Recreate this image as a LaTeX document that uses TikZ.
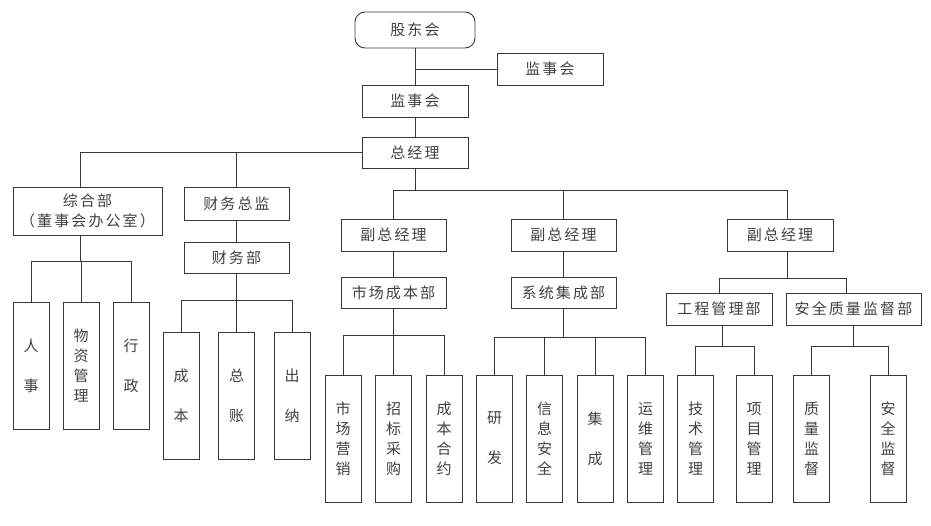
\documentclass[tikz,border=0pt]{standalone}
\usepackage{fontspec}
\newfontfamily\cjk[LetterSpace=14]{Noto Sans CJK SC}
\newfontfamily\cjkv{Noto Sans CJK SC}
\begin{document}
\begin{tikzpicture}[x=1pt,y=-1pt,
  box/.style={draw=black!78, line width=0.9pt, inner sep=0pt, text=black!75, align=center,
              font=\cjk\fontsize{15}{20}\selectfont},
  hb/.style={box, minimum width=106pt, minimum height=32pt},
  leaf/.style={box, minimum width=36pt, minimum height=127pt, font=\cjkv\fontsize{15}{20}\selectfont},
  link/.style={draw=black!78, line width=0.9pt}]
\useasboundingbox (0,0) rectangle (931,525);
% top
\node[box, rounded corners=10pt, minimum width=120pt, minimum height=36pt] (gd) at (415,30) {股东会};
\node[hb] (jsh2) at (550,69) {监事会};
\node[hb] (jsh) at (415,101) {监事会};
\node[hb, minimum height=31pt] (zjl) at (415,152.5) {总经理};
% left
\node[box, minimum width=149pt, minimum height=48pt] (zhb) at (87.5,211) {综合部\\（董事会办公室）};
\node[hb, minimum width=105pt, minimum height=33pt] (cwzj) at (236.5,203.5) {财务总监};
\node[hb, minimum width=105pt, minimum height=31pt] (cwb) at (236.5,257.5) {财务部};
\node[leaf] (rs) at (31,365.5) {人\\[20pt]事};
\node[leaf] (wz) at (81,365.5) {物\\资\\管\\理};
\node[leaf] (xz) at (131,365.5) {行\\[20pt]政};
\node[leaf] (cb) at (181,395.5) {成\\[20pt]本};
\node[leaf] (zz) at (236.5,395.5) {总\\[20pt]账};
\node[leaf] (cn) at (292,395.5) {出\\[20pt]纳};
% deputies
\node[hb, minimum width=105pt] (fz1) at (393.5,235) {副总经理};
\node[hb, minimum width=105pt, minimum height=31pt] (scb) at (393.5,292.5) {市场成本部};
\node[hb, minimum width=105pt] (fz2) at (563.5,235) {副总经理};
\node[hb, minimum width=105pt, minimum height=31pt] (xtb) at (563.5,292.5) {系统集成部};
\node[hb] (fz3) at (780,235) {副总经理};
\node[hb] (gcb) at (719,309) {工程管理部};
\node[hb, minimum width=135pt] (aqb) at (853.5,309) {安全质量监督部};
% leaves
\node[leaf] (scyx) at (343,438.5) {市\\场\\营\\销};
\node[leaf] (zbcg) at (393.5,438.5) {招\\标\\采\\购};
\node[leaf] (cbhy) at (444,438.5) {成\\本\\合\\约};
\node[leaf] (yf) at (494.5,438.5) {研\\[20pt]发};
\node[leaf] (xxaq) at (544.5,438.5) {信\\息\\安\\全};
\node[leaf] (jc) at (595,438.5) {集\\[20pt]成};
\node[leaf] (ywgl) at (645.5,438.5) {运\\维\\管\\理};
\node[leaf] (jsgl) at (695.5,438.5) {技\\术\\管\\理};
\node[leaf] (xmgl) at (754,438.5) {项\\目\\管\\理};
\node[leaf] (zljd) at (811.5,438.5) {质\\量\\监\\督};
\node[leaf] (aqjd) at (888,438.5) {安\\全\\监\\督};
% helper coordinates
\coordinate (zhbt) at ([xshift=-7.5pt]zhb.north);
\coordinate (zhbb) at ([xshift=-7.5pt]zhb.south);
\coordinate (fz3t) at ([xshift=7pt]fz3.north);
\coordinate (fz3b) at ([xshift=7pt]fz3.south);
\coordinate (aqbt) at ([xshift=-7.5pt]aqb.north);
\coordinate (gcbb) at ([xshift=3pt]gcb.south);
\coordinate (bA) at (0,190);
\coordinate (bZ) at (0,261);
\coordinate (bC) at (0,300);
\coordinate (bS) at (0,335);
\coordinate (bX) at (0,337);
\coordinate (bF) at (0,278);
\coordinate (bG) at (0,346);
% connectors
\draw[link] (gd) -- (jsh);
\draw[link] (jsh2.west) -- (jsh2.west -| gd.south);
\draw[link] (jsh) -- (zjl);
\draw[link] (zjl.west) -| (zhbt);
\draw[link] (zjl.west) -| (cwzj.north);
\draw[link] (cwzj) -- (cwb);
\foreach \c in {fz1,fz2} \draw[link] (zjl.south) |- (\c.north |- bA) -- (\c.north);
\draw[link] (zjl.south) |- (fz3t |- bA) -- (fz3t);
\foreach \c in {rs,wz,xz} \draw[link] (zhbb) |- (\c.north |- bZ) -- (\c.north);
\foreach \c in {cb,zz,cn} \draw[link] (cwb.south) |- (\c.north |- bC) -- (\c.north);
\draw[link] (fz1) -- (scb);
\draw[link] (fz2) -- (xtb);
\foreach \c in {scyx,zbcg,cbhy} \draw[link] (scb.south) |- (\c.north |- bS) -- (\c.north);
\foreach \c in {yf,xxaq,jc,ywgl} \draw[link] (xtb.south) |- (\c.north |- bX) -- (\c.north);
\draw[link] (fz3b) |- (gcb.north |- bF) -- (gcb.north);
\draw[link] (fz3b) |- (aqbt |- bF) -- (aqbt);
\foreach \c in {jsgl,xmgl} \draw[link] (gcbb) |- (\c.north |- bG) -- (\c.north);
\foreach \c in {zljd,aqjd} \draw[link] (aqb.south) |- (\c.north |- bG) -- (\c.north);
\end{tikzpicture}
\end{document}
